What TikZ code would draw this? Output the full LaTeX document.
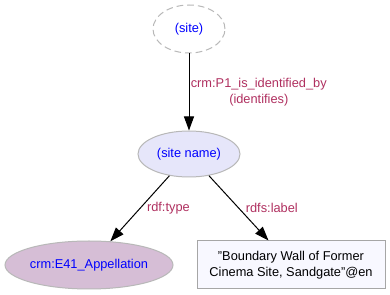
\documentclass[tikz,border=0pt]{standalone}
\usepackage{fontspec}
\setmainfont{Liberation Sans}
\usetikzlibrary{shapes.geometric,arrows.meta}
\definecolor{nodeblue}{RGB}{0,0,255}
\definecolor{labelred}{RGB}{176,48,96}
\definecolor{lavender}{RGB}{230,230,250}
\definecolor{thistlefill}{RGB}{214,190,214}
\definecolor{litfill}{RGB}{248,248,255}
\begin{document}
\begin{tikzpicture}[x=0.75pt,y=-0.75pt,
  every node/.style={font=\fontsize{9.6}{11.6}\selectfont},
  res/.style={ellipse,inner sep=0pt,text=nodeblue,draw=black!28,line width=0.75pt},
  edge/.style={line width=0.75pt,-{Triangle[length=10.5pt,width=7.5pt]}},
  elabel/.style={text=labelred,align=center,inner sep=1pt}]
  \useasboundingbox[fill=white] (0,0) rectangle (390,295);
  % resources
  \node[res,dashed,dash pattern=on 5pt off 3pt,minimum width=54pt,minimum height=36pt] (site) at (189,29) {(site)};
  \node[res,fill=lavender,minimum width=76.5pt,minimum height=34.5pt] (sn) at (189,154) {(site name)};
  \node[res,fill=thistlefill,minimum width=126pt,minimum height=36pt] (cls) at (89,265) {crm:E41\_Appellation};
  % literal value
  \node[rectangle,draw=black!35,fill=litfill,line width=0.75pt,minimum width=141pt,minimum height=36pt,
        align=center,inner sep=0pt] (lit) at (291,265) {"Boundary Wall of Former\\Cinema Site, Sandgate"@en};
  % properties
  \draw[edge] (site) -- node[elabel,anchor=west] {crm:P1\_is\_identified\_by\\(identifies)} (sn);
  \draw[edge] (sn) -- node[elabel,anchor=west,xshift=4pt] {rdf:type} (cls);
  \draw[edge] (sn) -- node[elabel,anchor=west,xshift=4pt] {rdfs:label} (lit);
\end{tikzpicture}
\end{document}
